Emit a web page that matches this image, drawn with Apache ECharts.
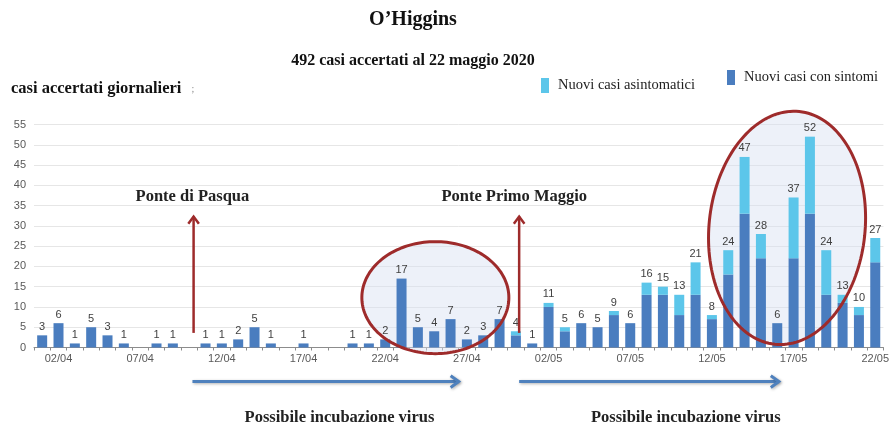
<!DOCTYPE html>
<html>
<head>
<meta charset="utf-8">
<script src="https://cdn.jsdelivr.net/npm/echarts@6/dist/echarts.min.js"></script>
<style>
  html, body { margin: 0; padding: 0; background: #ffffff; }
  #chart { width: 892px; height: 425px; }
</style>
</head>
<body>
<div id="chart"></div>
<script>
// Daily confirmed cases, 1 April - 22 May 2020
const dates = [
  '01/04','02/04','03/04','04/04','05/04','06/04','07/04','08/04','09/04','10/04',
  '11/04','12/04','13/04','14/04','15/04','16/04','17/04','18/04','19/04','20/04',
  '21/04','22/04','23/04','24/04','25/04','26/04','27/04','28/04','29/04','30/04',
  '01/05','02/05','03/05','04/05','05/05','06/05','07/05','08/05','09/05','10/05',
  '11/05','12/05','13/05','14/05','15/05','16/05','17/05','18/05','19/05','20/05',
  '21/05','22/05'
];
const withSymptoms = [
  3, 6, 1, 5, 3, 1, 0, 1, 1, 0,
  1, 1, 2, 5, 1, 0, 1, 0, 0, 1,
  1, 2, 17, 5, 4, 7, 2, 3, 7, 3,
  1, 10, 4, 6, 5, 8, 6, 13, 13, 8,
  13, 7, 18, 33, 22, 6, 22, 33, 13, 11,
  8, 21
];
const asymptomatic = [
  0, 0, 0, 0, 0, 0, 0, 0, 0, 0,
  0, 0, 0, 0, 0, 0, 0, 0, 0, 0,
  0, 0, 0, 0, 0, 0, 0, 0, 0, 1,
  0, 1, 1, 0, 0, 1, 0, 3, 2, 5,
  8, 1, 6, 14, 6, 0, 15, 19, 11, 2,
  2, 6
];
const yMax = 55;
const yStep = 5;

const serif = '"Liberation Serif", "DejaVu Serif", serif';
const sans = '"Liberation Sans", Arial, sans-serif';
const darkBlue = '#4a7dbf';
const lightBlue = '#5cc6ea';
const red = '#9e2b2b';
const arrowBlue = '#4f81bd';

const totals = dates.map((d, i) => withSymptoms[i] + asymptomatic[i]);

const chart = echarts.init(document.getElementById('chart'), null, { renderer: 'canvas' });

chart.setOption({
  animation: false,
  backgroundColor: '#ffffff',
  title: [
    { text: 'O\u2019Higgins', left: 413, textAlign: 'center', top: 10, padding: 0,
      textStyle: { fontFamily: serif, fontSize: 20, fontWeight: 'bold', color: '#111' } },
    { text: '492 casi accertati al 22 maggio 2020', left: 413, textAlign: 'center', top: 53, padding: 0,
      textStyle: { fontFamily: serif, fontSize: 16, fontWeight: 'bold', color: '#111' } },
    { text: 'casi accertati giornalieri', left: 11, top: 80, padding: 0,
      textStyle: { fontFamily: serif, fontSize: 16.5, fontWeight: 'bold', color: '#111' } }
  ],
  legend: [
    { data: ['Nuovi casi asintomatici'], left: 541, top: 78, padding: 0, itemWidth: 8, itemHeight: 15,
      icon: 'rect', selectedMode: false,
      textStyle: { fontFamily: serif, fontSize: 14.5, color: '#222', padding: [3, 0, 0, 4] } },
    { data: ['Nuovi casi con sintomi'], left: 727, top: 70, padding: 0, itemWidth: 8, itemHeight: 15,
      icon: 'rect', selectedMode: false,
      textStyle: { fontFamily: serif, fontSize: 14.5, color: '#222', padding: [3, 0, 0, 4] } }
  ],
  grid: { left: 34, right: 6, top: 124.5, bottom: 77.5 },
  xAxis: {
    type: 'category',
    data: dates,
    axisLine: { lineStyle: { color: '#8c8c8c', width: 1 } },
    axisTick: { show: true, interval: 0, length: 3, lineStyle: { color: '#8c8c8c' } },
    axisLabel: {
      interval: (idx) => (idx - 1) % 5 === 0,
      margin: 6,
      fontFamily: sans, fontSize: 11, color: '#595959'
    },
    splitLine: { show: false }
  },
  yAxis: {
    type: 'value',
    min: 0, max: yMax, interval: yStep,
    axisLine: { show: false },
    axisTick: { show: false },
    axisLabel: { margin: 8, fontFamily: sans, fontSize: 11, color: '#595959' },
    splitLine: { lineStyle: { color: '#e6e6e6', width: 1 } }
  },
  series: [
    {
      name: 'Nuovi casi con sintomi', type: 'bar', stack: 'casi',
      data: withSymptoms, barWidth: 10,
      itemStyle: { color: darkBlue }, z: 3
    },
    {
      name: 'Nuovi casi asintomatici', type: 'bar', stack: 'casi',
      data: asymptomatic, barWidth: 10,
      itemStyle: { color: lightBlue }, z: 3,
      label: {
        show: true, position: 'top', distance: 3,
        fontFamily: sans, fontSize: 11, color: '#404040',
        formatter: (p) => (totals[p.dataIndex] > 0 ? String(totals[p.dataIndex]) : '')
      }
    }
  ]
});

// Annotation layer positioned from the axes' own scales
const origin = chart.convertToPixel({ xAxisIndex: 0, yAxisIndex: 0 }, [0, 0]);
const next = chart.convertToPixel({ xAxisIndex: 0, yAxisIndex: 0 }, [1, yMax]);
const stepX = next[0] - origin[0];
const stepY = (next[1] - origin[1]) / yMax;
const X = (i) => origin[0] + i * stepX;
const Y = (v) => origin[1] + v * stepY;

function ellipsePoints(cx, cy, rx, ry, deg) {
  const th = deg * Math.PI / 180;
  const pts = [];
  for (let k = 0; k < 160; k++) {
    const t = (k / 160) * Math.PI * 2;
    const ex = rx * Math.cos(t), ey = ry * Math.sin(t);
    pts.push([cx + ex * Math.cos(th) - ey * Math.sin(th), cy + ex * Math.sin(th) + ey * Math.cos(th)]);
  }
  return pts;
}

function ellipse(cx, cy, rx, ry, deg) {
  const pts = ellipsePoints(cx, cy, rx, ry, deg);
  return [
    { type: 'polygon', z: 1, silent: true, shape: { points: pts },
      style: { fill: 'rgba(214, 224, 242, 0.45)', stroke: null } },
    { type: 'polygon', z: 20, silent: true, shape: { points: pts },
      style: { fill: null, stroke: red, lineWidth: 3 } }
  ];
}

function arrow(x1, y1, x2, y2, color, width, head, shadow) {
  const ang = Math.atan2(y2 - y1, x2 - x1);
  const a1 = ang + Math.PI * 0.8, a2 = ang - Math.PI * 0.8;
  const fx = shadow ? { shadowBlur: 3, shadowColor: 'rgba(0,0,0,0.3)', shadowOffsetX: 1, shadowOffsetY: 1 } : {};
  return [
    { type: 'line', z: 20, silent: true, shape: { x1, y1, x2, y2 },
      style: Object.assign({ stroke: color, lineWidth: width }, fx) },
    { type: 'polyline', z: 20, silent: true,
      shape: { points: [
        [x2 + head * Math.cos(a1), y2 + head * Math.sin(a1)],
        [x2, y2],
        [x2 + head * Math.cos(a2), y2 + head * Math.sin(a2)]
      ] },
      style: Object.assign({ stroke: color, lineWidth: width, lineJoin: 'miter', fill: null }, fx) }
  ];
}

function note(text, x, y) {
  return { type: 'text', z: 20, silent: true, x, y,
    style: { text, fontFamily: serif, fontSize: 16.5, fontWeight: 'bold', fill: '#222',
      align: 'center', verticalAlign: 'middle' } };
}

const elements = [].concat(
  ellipse(X(24.07), Y(12.3), 73.5, 56, 0),
  ellipse(X(45.6), Y(29.5), 78, 117, 6),
  arrow(X(9.27), Y(3.6), X(9.27), Y(32.3), red, 2.5, 9, false),
  arrow(X(29.2), Y(3.6), X(29.2), Y(32.3), red, 2.5, 9, false),
  arrow(X(9.2), Y(-8.4), X(25.5), Y(-8.4), arrowBlue, 3, 10, true),
  arrow(X(29.2), Y(-8.4), X(45.1), Y(-8.4), arrowBlue, 3, 10, true),
  [
    note('Ponte di Pasqua', X(9.2), Y(37.1)),
    note('Ponte Primo Maggio', X(28.9), Y(37.1)),
    note('Possibile incubazione virus', X(18.2), Y(-17.4)),
    note('Possibile incubazione virus', X(39.4), Y(-17.4)),
    { type: 'text', z: 20, silent: true, x: 193, y: 89,
      style: { text: ';', fontFamily: serif, fontSize: 10, fill: '#888',
        align: 'center', verticalAlign: 'middle' } }
  ]
);

chart.setOption({ graphic: { elements } });
</script>
</body>
</html>
